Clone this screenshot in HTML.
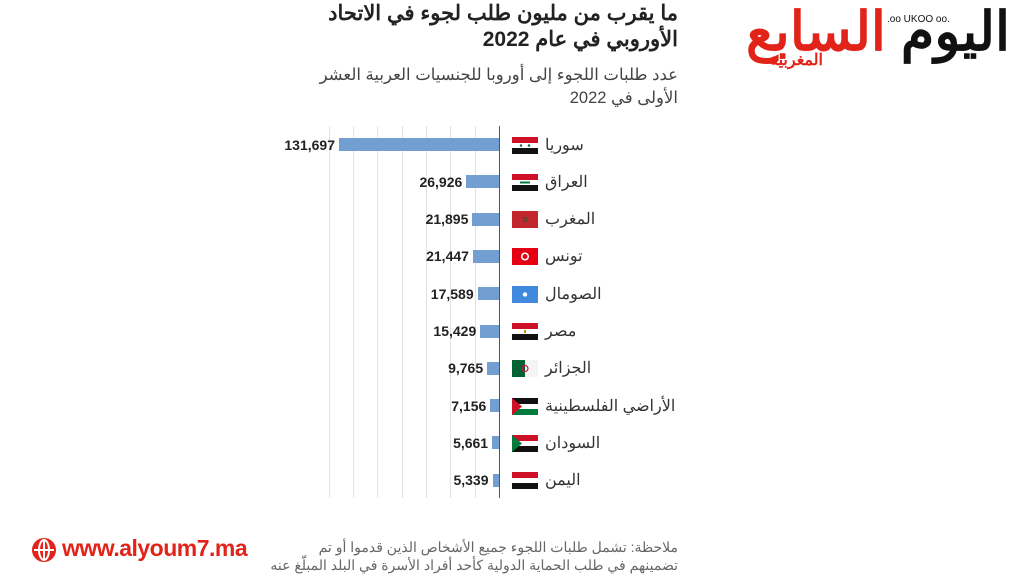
<!DOCTYPE html>
<html><head><meta charset="utf-8"><style>
body{margin:0;width:1024px;height:576px;background:#fff;position:relative;overflow:hidden;font-family:"Liberation Sans","Noto Sans CJK SC",sans-serif}
.a{position:absolute;white-space:nowrap}
.t{right:346px;font-weight:bold;font-size:21px;color:#222;direction:rtl;text-align:right}
.s{right:346px;font-size:16.5px;color:#444;direction:rtl;text-align:right}
.g{position:absolute;top:126px;height:372px;width:1px;background:#e2e2e2}
.bar{position:absolute;height:13px;background:#739ed2}
.v{position:absolute;font-weight:bold;font-size:14px;color:#222;text-align:right;width:100px}
.n{position:absolute;left:545px;font-size:16px;color:#333}
.f{position:absolute;left:512px;width:26px;height:17px}
</style></head><body>
<div class="a t" style="top:1px">ما يقرب من مليون طلب لجوء في الاتحاد</div>
<div class="a t" style="top:27px">الأوروبي في عام 2022</div>
<div class="a s" style="top:65px">عدد طلبات اللجوء إلى أوروبا للجنسيات العربية العشر</div>
<div class="a s" style="top:88px">الأولى في 2022</div>
<div class="g" style="left:329px"></div><div class="g" style="left:353px"></div><div class="g" style="left:377px"></div><div class="g" style="left:402px"></div><div class="g" style="left:426px"></div><div class="g" style="left:450px"></div><div class="g" style="left:475px"></div>
<div style="position:absolute;left:499px;top:126px;width:1px;height:372px;background:#555"></div>
<div id="rows"></div>
<script>
var d=[["سوريا",131697,"131,697","sy"],["العراق",26926,"26,926","iq"],["المغرب",21895,"21,895","ma"],["تونس",21447,"21,447","tn"],["الصومال",17589,"17,589","so"],["مصر",15429,"15,429","eg"],["الجزائر",9765,"9,765","dz"],["الأراضي الفلسطينية",7156,"7,156","ps"],["السودان",5661,"5,661","sd"],["اليمن",5339,"5,339","ye"]];
function flag(c){
var r='#ce1126',k='#111',w='#fff',gr='#007a3d';
function tri(a,b,cc){return '<rect width="26" height="6" y="0" fill="'+a+'"/><rect width="26" height="5" y="6" fill="'+b+'"/><rect width="26" height="6" y="11" fill="'+cc+'"/>';}
var s='';
if(c=='sy'||c=='iq'||c=='eg'||c=='ye')s=tri(r,w,k);
if(c=='sy')s+='<circle cx="9" cy="8.5" r="1.3" fill="'+gr+'"/><circle cx="17" cy="8.5" r="1.3" fill="'+gr+'"/>';
if(c=='iq')s+='<rect x="8" y="7.5" width="10" height="2" fill="'+gr+'"/>';
if(c=='eg')s+='<rect x="12" y="7" width="2" height="3" fill="#c09300"/>';
if(c=='ma')s='<rect width="26" height="17" fill="#c1272d"/><circle cx="13" cy="8.5" r="2" fill="none" stroke="#006233" stroke-width=".8"/>';
if(c=='tn')s='<rect width="26" height="17" fill="#e70013"/><circle cx="13" cy="8.5" r="4" fill="#fff"/><circle cx="13" cy="8.5" r="2.5" fill="#e70013"/>';
if(c=='so')s='<rect width="26" height="17" fill="#4189dd"/><circle cx="13" cy="8.5" r="2.2" fill="#fff"/>';
if(c=='dz')s='<rect width="13" height="17" fill="#006233"/><rect x="13" width="13" height="17" fill="#f4f4f4"/><circle cx="13" cy="8.5" r="3" fill="none" stroke="#d21034" stroke-width="1.2"/>';
if(c=='ps'||c=='sd'){s=(c=='ps'?tri(k,w,gr):tri(r,w,k))+'<polygon points="0,0 10,8.5 0,17" fill="'+(c=='ps'?r:gr)+'"/>';}
return '<svg class="f" style="top:TOPpx" viewBox="0 0 26 17">'+s+'</svg>';}
var h='';
d.forEach(function(e,i){var y=144.5+i*37.3;var w=e[1]*160/131697;var x=499-w;
h+='<div class="bar" style="left:'+x+'px;width:'+w+'px;top:'+(y-6.5)+'px"></div>';
h+='<div class="v" style="left:'+(x-104)+'px;top:'+(y-8)+'px">'+e[2]+'</div>';
h+=flag(e[3]).replace('TOP',y-8);
h+='<div class="n" style="top:'+(y-10)+'px;direction:rtl">'+e[0]+'</div>';});
document.getElementById('rows').innerHTML=h;
</script>
<div class="a" style="right:346px;top:538px;font-size:14px;color:#666;direction:rtl;text-align:right;line-height:18px">ملاحظة: تشمل طلبات اللجوء جميع الأشخاص الذين قدموا أو تم<br>تضمينهم في طلب الحماية الدولية كأحد أفراد الأسرة في البلد المبلّغ عنه</div>
<svg class="a" style="left:31px;top:537px" width="26" height="26" viewBox="0 0 26 26"><circle cx="13" cy="13" r="12" fill="#e2231a"/><ellipse cx="13" cy="13" rx="5" ry="10" fill="none" stroke="#fff" stroke-width="2"/><line x1="3" y1="13" x2="23" y2="13" stroke="#fff" stroke-width="2"/><line x1="13" y1="3" x2="13" y2="23" stroke="#fff" stroke-width="2"/></svg>
<div class="a" style="left:62px;top:535px;font-size:23px;font-weight:bold;color:#e2231a;letter-spacing:-0.5px">www.alyoum7.ma</div>
<div class="a" style="right:14px;top:2px;font-size:54px;font-weight:bold;color:#111;direction:rtl;line-height:60px">اليوم <span style="color:#e2231a">السابع</span></div>
<div class="a" style="left:887px;top:14px;font-size:10px;color:#111">.oo UKOO oo.</div>
<div class="a" style="left:770px;top:50px;font-size:16px;font-weight:bold;color:#e2231a;direction:rtl">المغربية</div>
</body></html>
